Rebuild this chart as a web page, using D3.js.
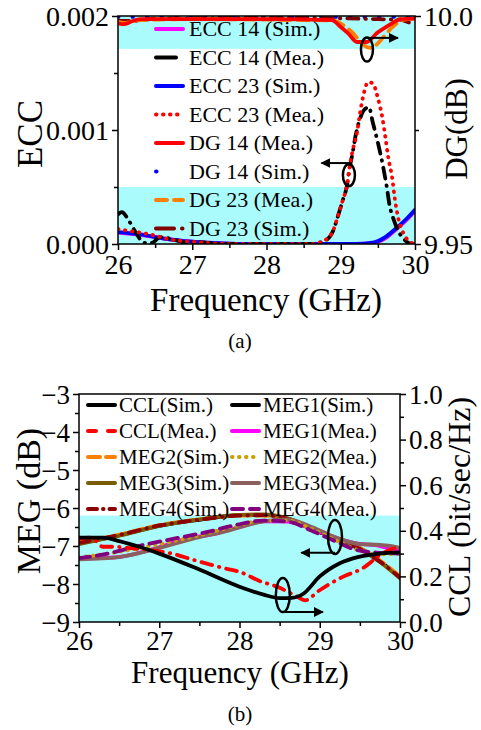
<!DOCTYPE html>
<html>
<head>
<meta charset="utf-8">
<script src="https://cdn.jsdelivr.net/npm/d3@7"></script>
<style>
  body { margin: 0; background: #fff; }
  svg { font-family: "Liberation Serif", "Times New Roman", serif; }
</style>
</head>
<body>
<svg id="chart" width="481" height="730"></svg>
<script>
// ---------- data: [frequency (GHz), value] ----------
const freqTicks = [26, 27, 28, 29, 30];
const freqMinor = [26.5, 27.5, 28.5, 29.5];

// (a) ECC (left axis) and DG in dB (right axis)
const eccTicks = [0, 0.001, 0.002];
const eccMinor = [0.0005, 0.0015];
const dgTicks = [9.95, 10.0];
const dgTickLabels = ['9.95', '10.0'];
const dgMinor = [9.975];

const ecc14Sim = [[26,0.0001],[26.3,0.00008],[26.6,0.00005],[27,0.00002],[27.4,0.000005],[27.8,0],[28.5,0],[29.2,0],[29.45,0.00001],[29.6,0.00005],[29.75,0.00013],[29.9,0.00022],[30,0.00029]];
const ecc14Mea = [[26,0.00026],[26.05,0.00028],[26.15,0.0002],[26.25,0.00009],[26.35,0.00001],[26.45,0.00001],[26.57,0.00006],[26.68,0.00005],[26.8,0.00003],[26.95,0.00001],[27.05,0.00002],[27.2,0.00001],[27.5,0],[28.6,0],[28.79,0.00003],[28.9,0.00012],[28.96,0.00024],[29.03,0.00039],[29.08,0.0005],[29.12,0.00067],[29.16,0.0008],[29.2,0.00095],[29.26,0.0011],[29.32,0.00118],[29.38,0.0012],[29.43,0.00107],[29.5,0.00089],[29.57,0.00068],[29.62,0.0005],[29.66,0.00033],[29.7,0.00024],[29.77,0.00012],[29.87,0.00003],[29.95,0],[30,0]];
const ecc23Sim = [[26,0.000105],[26.3,0.000085],[26.6,0.00005],[27,0.00002],[27.4,0.000005],[27.8,0],[28.5,0],[29.2,0],[29.45,0.000015],[29.6,0.00006],[29.75,0.00014],[29.9,0.00023],[30,0.0003]];
const ecc23Mea = [[26,0.00013],[26.2,0.00011],[26.46,0.00008],[26.7,0.00004],[27,0.00002],[27.3,0.000005],[27.6,0],[28.6,0],[28.79,0.000035],[28.9,0.00012],[28.96,0.00024],[29.03,0.00039],[29.08,0.0005],[29.12,0.00068],[29.16,0.00082],[29.22,0.00098],[29.26,0.00115],[29.3,0.00129],[29.37,0.00142],[29.43,0.00141],[29.5,0.00128],[29.56,0.00111],[29.6,0.00094],[29.64,0.00076],[29.69,0.00059],[29.73,0.00039],[29.77,0.00024],[29.84,0.0001],[29.93,0.00002],[30,0]];
const dg14Mea = [[26,9.9984],[26.08,9.9982],[26.18,9.9988],[26.3,9.9993],[27,9.9993],[28,9.9993],[28.88,9.9991],[29.0,9.9976],[29.1,9.9962],[29.22,9.9943],[29.35,9.9943],[29.49,9.9963],[29.6,9.9975],[29.7,9.9985],[29.8,9.9993],[30,9.9995]];
const dg14Sim = [[26,9.9998],[27,9.9998],[28,9.9999],[29,9.9998],[30,9.9998]];
const dg23Mea = [[26,9.9987],[26.1,9.9985],[26.25,9.999],[26.5,9.9992],[27,9.9993],[28,9.9992],[28.9,9.999],[29.05,9.9978],[29.15,9.9965],[29.25,9.9947],[29.35,9.9932],[29.42,9.993],[29.5,9.994],[29.58,9.9955],[29.7,9.9976],[29.85,9.9992],[30,9.9994]];
const dg23Sim = [[26,9.999],[26.2,9.9989],[26.5,9.9994],[27,9.9995],[28,9.9996],[29,9.9995],[29.5,9.9993],[29.8,9.9992],[29.95,9.9985],[30,9.9986]];

// (b) MEG in dB (left axis) and CCL in bit/sec/Hz (right axis)
const megTicks = [-9, -8, -7, -6, -5, -4, -3];
const megMinor = [-8.5, -7.5, -6.5, -5.5, -4.5, -3.5];
const cclTicks = [0, 0.2, 0.4, 0.6, 0.8, 1.0];
const cclMinor = [0.1, 0.3, 0.5, 0.7, 0.9];

const cclSim = [[26,0.37],[26.3,0.37],[26.5,0.355],[26.75,0.33],[27,0.3],[27.5,0.23],[28,0.155],[28.3,0.12],[28.5,0.105],[28.65,0.106],[28.8,0.125],[29,0.2],[29.25,0.258],[29.5,0.287],[29.75,0.3],[30,0.305]];
const cclMea = [[26,0.365],[26.15,0.37],[26.3,0.33],[26.45,0.33],[26.6,0.325],[26.9,0.315],[27.16,0.3],[27.45,0.27],[27.82,0.235],[28,0.22],[28.25,0.18],[28.48,0.153],[28.7,0.115],[28.82,0.095],[28.98,0.135],[29.28,0.197],[29.53,0.235],[29.78,0.3],[29.9,0.32],[30,0.33]];
const meg1Sim = [[26,-6.93],[26.5,-6.72],[27,-6.47],[27.5,-6.31],[28,-6.19],[28.3,-6.18],[28.6,-6.28],[28.9,-6.54],[29.2,-6.8],[29.5,-7.06],[29.75,-7.4],[30,-7.82]];
const meg1Mea = [[26,-7.33],[26.45,-7.3],[26.86,-7.12],[27.32,-6.82],[27.73,-6.66],[28,-6.5],[28.3,-6.35],[28.6,-6.36],[28.9,-6.55],[29.2,-6.78],[29.45,-6.93],[29.7,-6.98],[29.85,-7.05],[30,-7.1]];
const meg2Sim = [[26,-6.9],[26.5,-6.7],[27,-6.45],[27.5,-6.3],[28,-6.2],[28.3,-6.2],[28.6,-6.3],[28.9,-6.52],[29.2,-6.78],[29.5,-7.05],[29.75,-7.38],[30,-7.8]];
const meg2Mea = [[26,-7.3],[26.5,-7.15],[27,-6.95],[27.5,-6.72],[28,-6.45],[28.3,-6.33],[28.6,-6.33],[28.9,-6.55],[29.2,-6.85],[29.5,-7.12],[29.75,-7.22],[30,-7.2]];
const meg3Sim = [[26,-6.95],[26.5,-6.73],[27,-6.47],[27.5,-6.3],[28,-6.18],[28.3,-6.17],[28.6,-6.27],[28.9,-6.53],[29.2,-6.81],[29.5,-7.08],[29.75,-7.42],[30,-7.85]];
const meg3Mea = [[26,-7.35],[26.5,-7.29],[27,-7.05],[27.4,-6.82],[27.85,-6.6],[28.3,-6.35],[28.6,-6.3],[28.9,-6.5],[29.2,-6.78],[29.5,-6.95],[29.75,-6.97],[29.9,-7.0],[30,-7.05]];
const meg4Sim = [[26,-6.92],[26.5,-6.71],[27,-6.46],[27.5,-6.31],[28,-6.2],[28.3,-6.19],[28.6,-6.29],[28.9,-6.55],[29.2,-6.82],[29.5,-7.08],[29.75,-7.41],[30,-7.83]];
const meg4Mea = [[26,-7.32],[26.36,-7.2],[26.8,-6.97],[27.2,-6.8],[27.6,-6.63],[27.95,-6.45],[28.3,-6.33],[28.6,-6.36],[28.9,-6.6],[29.2,-6.88],[29.45,-7.1],[29.75,-7.18],[30,-7.2]];

const CYAN = '#aafbfb';
const DASH_DOT = '11 7 0.5 7';
const DOTS = '0.5 6.5';

class DualAxisChart {

  constructor(_config, _series) {
    this.config = _config;
    this.series = _series;
    this.initVis();
  }

  initVis() {
    let vis = this;
    let cfg = vis.config;

    vis.xScale = d3.scaleLinear().domain([26, 30]).range([0, cfg.width]);
    vis.yLeft = d3.scaleLinear().domain(cfg.leftDomain).range([cfg.height, 0]);
    vis.yRight = d3.scaleLinear().domain(cfg.rightDomain).range([cfg.height, 0]);

    vis.chart = d3.select(cfg.parentElement).append('g')
        .attr('transform', `translate(${cfg.left},${cfg.top})`);

    vis.chart.append('clipPath').attr('id', cfg.id + '-clip')
      .append('rect').attr('width', cfg.width).attr('height', cfg.height);

    // shaded bands
    cfg.bands.forEach(b => {
      const sc = b.axis === 'left' ? vis.yLeft : vis.yRight;
      vis.chart.append('rect')
          .attr('x', 0)
          .attr('width', cfg.width)
          .attr('y', sc(b.range[1]))
          .attr('height', sc(b.range[0]) - sc(b.range[1]))
          .attr('fill', CYAN);
    });

    vis.marks = vis.chart.append('g').attr('clip-path', `url(#${cfg.id}-clip)`);

    vis.renderVis();
  }

  renderVis() {
    let vis = this;
    let cfg = vis.config;

    vis.series.forEach(s => {
      const sc = s.axis === 'left' ? vis.yLeft : vis.yRight;
      const line = d3.line()
          .x(d => vis.xScale(d[0]))
          .y(d => sc(d[1]))
          .curve(d3.curveMonotoneX);
      vis.marks.append('path')
          .datum(s.data)
          .attr('d', line)
          .attr('fill', 'none')
          .attr('stroke', s.color)
          .attr('stroke-width', s.width || 3.8)
          .attr('stroke-dasharray', s.dash || null)
          .attr('stroke-linecap', 'round')
          .attr('stroke-linejoin', 'round');
    });

    // legend (no box)
    const lg = cfg.legend;
    vis.series.forEach(s => {
      const col = Math.floor(s.slot / lg.rows);
      const row = s.slot % lg.rows;
      const x0 = lg.x + col * lg.colW;
      const y0 = lg.y + row * lg.rowH;
      vis.chart.append('line')
          .attr('x1', x0).attr('x2', x0 + lg.lineLen)
          .attr('y1', y0).attr('y2', y0)
          .attr('stroke', s.color)
          .attr('stroke-width', 4)
          .attr('stroke-linecap', 'round')
          .attr('stroke-dasharray', s.legendDash || s.dash || null);
      vis.chart.append('text')
          .attr('x', x0 + lg.lineLen + lg.gap)
          .attr('y', y0)
          .attr('dy', '0.34em')
          .attr('font-size', lg.fontSize)
          .text(s.label);
    });

    // annotation ellipses and arrows
    const defs = vis.chart.append('defs');
    defs.append('marker')
        .attr('id', cfg.id + '-arrow')
        .attr('viewBox', '0 0 10 10')
        .attr('refX', 9).attr('refY', 5)
        .attr('markerWidth', 5).attr('markerHeight', 5)
        .attr('orient', 'auto-start-reverse')
      .append('path').attr('d', 'M0,0 L10,5 L0,10 Z').attr('fill', '#000');

    cfg.notes.forEach(n => {
      const sc = n.axis === 'left' ? vis.yLeft : vis.yRight;
      vis.chart.append('ellipse')
          .attr('cx', vis.xScale(n.at[0]))
          .attr('cy', sc(n.at[1]))
          .attr('rx', n.rx).attr('ry', n.ry)
          .attr('fill', 'none')
          .attr('stroke', '#000')
          .attr('stroke-width', 2.5);
      vis.chart.append('line')
          .attr('x1', vis.xScale(n.from[0])).attr('y1', sc(n.from[1]))
          .attr('x2', vis.xScale(n.to[0])).attr('y2', sc(n.from[1]))
          .attr('stroke', '#000')
          .attr('stroke-width', 2)
          .attr('marker-end', `url(#${cfg.id}-arrow)`);
    });

    // frame
    vis.chart.append('rect')
        .attr('width', cfg.width).attr('height', cfg.height)
        .attr('fill', 'none').attr('stroke', '#000').attr('stroke-width', 1.5);

    // axes
    const styleAxis = g => {
      g.select('.domain').remove();
      g.selectAll('line').attr('stroke', '#000').attr('stroke-width', 1.5);
      g.attr('font-family', '"Liberation Serif", "Times New Roman", serif')
       .attr('font-size', cfg.tickFont);
      g.selectAll('text').attr('fill', '#000');
    };

    vis.chart.append('g')
        .attr('transform', `translate(0,${cfg.height})`)
        .call(d3.axisBottom(vis.xScale).tickValues(freqTicks).tickFormat(d3.format('d'))
          .tickSize(6).tickPadding(cfg.xPad))
        .call(styleAxis);
    vis.chart.append('g')
        .attr('transform', `translate(0,${cfg.height})`)
        .call(d3.axisBottom(vis.xScale).tickValues(freqMinor).tickFormat('').tickSize(4))
        .call(styleAxis);

    vis.chart.append('g')
        .call(d3.axisLeft(vis.yLeft).tickValues(cfg.leftTicks).tickFormat(cfg.leftFormat)
          .tickSize(6).tickPadding(3))
        .call(styleAxis)
        .selectAll('text').attr('dy', '0.34em');
    vis.chart.append('g')
        .call(d3.axisLeft(vis.yLeft).tickValues(cfg.leftMinor).tickFormat('').tickSize(4))
        .call(styleAxis);

    vis.chart.append('g')
        .attr('transform', `translate(${cfg.width},0)`)
        .call(d3.axisRight(vis.yRight).tickValues(cfg.rightTicks).tickFormat(cfg.rightFormat)
          .tickSize(6).tickPadding(3))
        .call(styleAxis)
        .selectAll('text').attr('dy', '0.34em');
    vis.chart.append('g')
        .attr('transform', `translate(${cfg.width},0)`)
        .call(d3.axisRight(vis.yRight).tickValues(cfg.rightMinor).tickFormat('').tickSize(4))
        .call(styleAxis);

    // titles
    const svg = d3.select(cfg.parentElement);
    cfg.titles.forEach(t => {
      svg.append('text')
          .attr('transform', `translate(${t.x},${t.y})` + (t.rotate ? ' rotate(-90)' : ''))
          .attr('text-anchor', 'middle')
          .attr('font-size', t.size)
          .text(t.text);
    });
  }
}

// ---------- chart (a) ----------
new DualAxisChart({
  parentElement: '#chart',
  id: 'a',
  left: 118, top: 16, width: 297, height: 228,
  leftDomain: [0, 0.002], rightDomain: [9.95, 10.0],
  leftTicks: eccTicks, leftMinor: eccMinor, leftFormat: d3.format('.3f'),
  rightTicks: dgTicks, rightMinor: dgMinor, rightFormat: (d, i) => dgTickLabels[i],
  tickFont: 28, xPad: 4,
  bands: [{axis: 'left', range: [0, 0.0005]}, {axis: 'right', range: [9.9928, 10.0]}],
  legend: {x: 38, y: 13, rows: 8, rowH: 28.5, colW: 0, lineLen: 27, gap: 6, fontSize: 22},
  notes: [
    {axis: 'right', at: [29.353, 9.99265], rx: 6, ry: 12, from: [29.353, 9.9952], to: [29.77]},
    {axis: 'left', at: [29.11, 0.000605], rx: 6, ry: 11, from: [29.12, 0.00071], to: [28.74]}
  ],
  titles: [
    {text: 'Frequency (GHz)', x: 266, y: 311, size: 33},
    {text: 'ECC', x: 42, y: 134, size: 35, rotate: true},
    {text: 'DG(dB)', x: 467, y: 129, size: 31, rotate: true},
    {text: '(a)', x: 240, y: 348, size: 21}
  ]
}, [
  {label: 'ECC 14 (Sim.)', data: ecc14Sim, axis: 'left', color: '#ff00ff', slot: 0},
  {label: 'ECC 23 (Sim.)', data: ecc23Sim, axis: 'left', color: '#0000ff', slot: 2},
  {label: 'ECC 14 (Mea.)', data: ecc14Mea, axis: 'left', color: '#000000', dash: DASH_DOT, legendDash: '20 7 0.5 7', slot: 1},
  {label: 'ECC 23 (Mea.)', data: ecc23Mea, axis: 'left', color: '#ff0000', dash: DOTS, slot: 3},
  {label: 'DG 14 (Sim.)', data: dg14Sim, axis: 'right', color: '#0000ff', dash: '0.5 14', legendDash: '0.5 40', slot: 5},
  {label: 'DG 23 (Sim.)', data: dg23Sim, axis: 'right', color: '#800000', dash: DASH_DOT, legendDash: '18 8 0.5 8', slot: 7},
  {label: 'DG 23 (Mea.)', data: dg23Mea, axis: 'right', color: '#ff8000', dash: '11 7', legendDash: '11 7', slot: 6},
  {label: 'DG 14 (Mea.)', data: dg14Mea, axis: 'right', color: '#ff0000', slot: 4}
]);

// ---------- chart (b) ----------
new DualAxisChart({
  parentElement: '#chart',
  id: 'b',
  left: 79, top: 394, width: 321, height: 228,
  leftDomain: [-9, -3], rightDomain: [0, 1],
  leftTicks: megTicks, leftMinor: megMinor, leftFormat: d3.format('d'),
  rightTicks: cclTicks, rightMinor: cclMinor, rightFormat: d3.format('.1f'),
  tickFont: 27, xPad: 3,
  bands: [{axis: 'left', range: [-9, -6.2]}],
  legend: {x: 9, y: 11, rows: 5, rowH: 26, colW: 144, lineLen: 27, gap: 4, fontSize: 21},
  notes: [
    {axis: 'left', at: [29.19, -6.76], rx: 7, ry: 17, from: [29.19, -7.18], to: [28.77]},
    {axis: 'right', at: [28.54, 0.118], rx: 7, ry: 17, from: [28.54, 0.044], to: [29.04]}
  ],
  titles: [
    {text: 'Frequency (GHz)', x: 240, y: 683, size: 31},
    {text: 'MEG (dB)', x: 40, y: 501, size: 34, rotate: true},
    {text: 'CCL (bit/sec/Hz)', x: 470, y: 507, size: 32, rotate: true},
    {text: '(b)', x: 240, y: 721, size: 21}
  ]
}, [
  {label: 'MEG1(Sim.)', data: meg1Sim, axis: 'left', color: '#000000', slot: 5},
  {label: 'MEG2(Sim.)', data: meg2Sim, axis: 'left', color: '#ff8000', dash: '12 6', slot: 2},
  {label: 'MEG3(Sim.)', data: meg3Sim, axis: 'left', color: '#7a5c00', slot: 3},
  {label: 'MEG4(Sim.)', data: meg4Sim, axis: 'left', color: '#8b0000', dash: DASH_DOT, legendDash: '9 6 0.5 6', slot: 4},
  {label: 'MEG1(Mea.)', data: meg1Mea, axis: 'left', color: '#ff00ff', slot: 6},
  {label: 'MEG3(Mea.)', data: meg3Mea, axis: 'left', color: '#8c5f5f', slot: 8},
  {label: 'MEG2(Mea.)', data: meg2Mea, axis: 'left', color: '#c9a000', dash: DOTS, slot: 7},
  {label: 'MEG4(Mea.)', data: meg4Mea, axis: 'left', color: '#800080', dash: '11 7', slot: 9},
  {label: 'CCL(Mea.)', data: cclMea, axis: 'right', color: '#ff0000', dash: DASH_DOT, legendDash: '8 12', slot: 1},
  {label: 'CCL(Sim.)', data: cclSim, axis: 'right', color: '#000000', slot: 0}
]);
</script>
</body>
</html>
